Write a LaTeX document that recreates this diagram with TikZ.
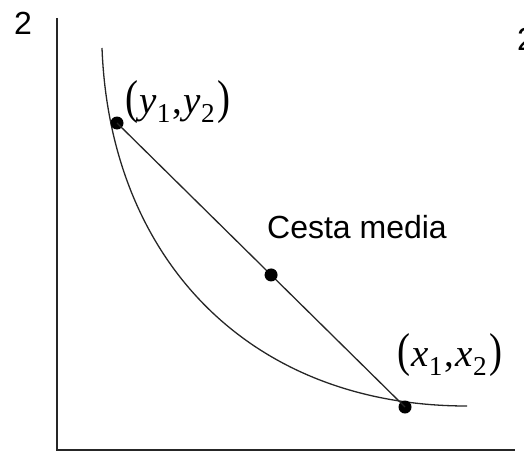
\documentclass[tikz,border=0pt]{standalone}
\usepackage{fontspec}
\setsansfont{Liberation Sans}
\newfontfamily\tnr{Liberation Serif}
\usetikzlibrary{calc}
\newcommand{\ptlabel}[1]{{\tnr\fontsize{39}{44}\selectfont\scalebox{1}[1.22]{(}\kern1pt\textit{#1}\textsubscript{1}\kern1pt,\kern2pt\textit{#1}\textsubscript{2}\kern2pt\scalebox{1}[1.22]{)}}}
\begin{document}
\begin{tikzpicture}[x=1pt,y=-1pt,
  dot/.style={circle,fill=black,inner sep=0pt,minimum size=13pt},
  axisline/.style={line width=2.4pt,draw=black!85},
  thinline/.style={line width=1.3pt,draw=black!85},
  lbl/.style={inner sep=0pt,font=\fontsize{32}{36}\selectfont\sffamily},
  mlbl/.style={inner sep=0pt}]
\useasboundingbox (0,0) rectangle (524,452);
\clip (0,0) rectangle (524,452);
% axes
\coordinate (top) at (57,18);
\coordinate (orig) at (57,450);
\coordinate (right) at (515,450);
\draw[axisline] (top) -- (orig) -- (right);
% curve
\draw[thinline] (102,48) .. controls (110,260) and (250,406) .. (467,406);
% points
\node[dot] (y) at (117,123) {};
\node[dot] (x) at (405,407) {};
\draw[thinline] (y.center) -- (x.center);
\node[dot] (m) at ($(y)!0.535!(x)$) {};
% labels
\node[lbl] (two) at (23,23) {2};
\node[lbl] (twor) at (526,39) {2};
\node[lbl] (cesta) at (357,227) {Cesta media};
\node[mlbl] (ylab) at (178,102) {\ptlabel{y}};
\node[mlbl] (xlab) at (450,355) {\ptlabel{x}};
\end{tikzpicture}
\end{document}
